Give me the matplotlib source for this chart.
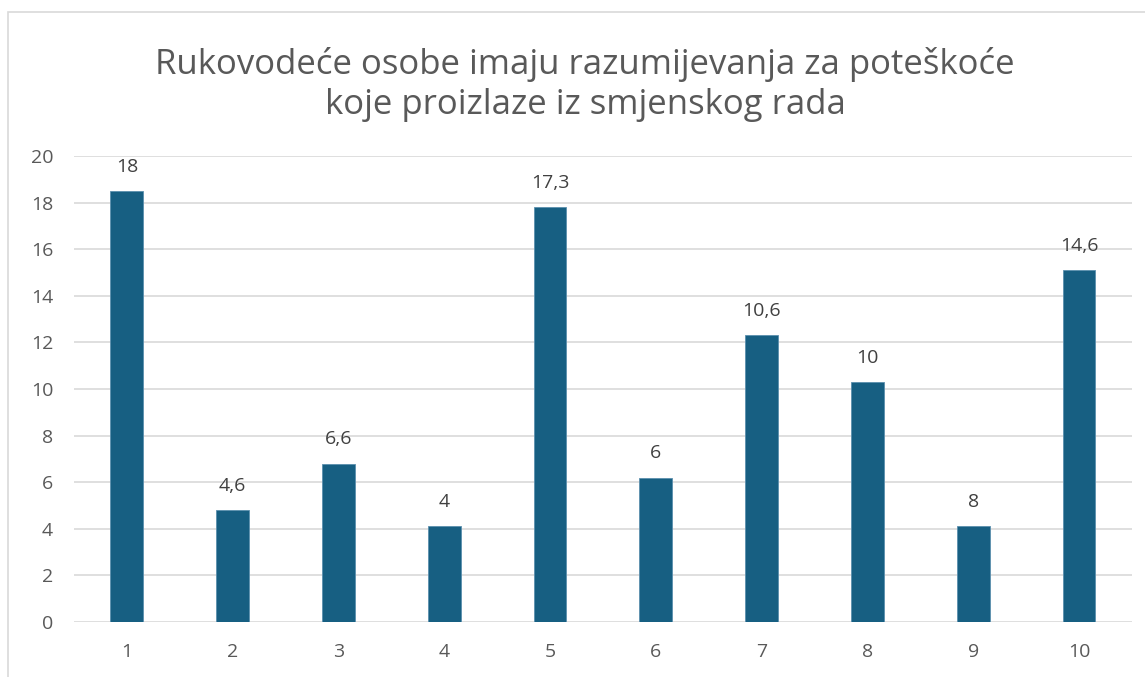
import matplotlib.pyplot as plt
from matplotlib.patches import Rectangle

plt.rcParams['font.family'] = ['Open Sans', 'DejaVu Sans']

categories = ['1', '2', '3', '4', '5', '6', '7', '8', '9', '10']
bar_heights = [18.5, 4.8, 6.8, 4.1, 17.8, 6.2, 12.3, 10.3, 4.1, 15.1]
bar_labels = ['18', '4,6', '6,6', '4', '17,3', '6', '10,6', '10', '8', '14,6']
y_ticks = [0, 2, 4, 6, 8, 10, 12, 14, 16, 18, 20]
title = 'Rukovodeće osobe imaju razumijevanja za poteškoće\nkoje proizlaze iz smjenskog rada'

fig = plt.figure(figsize=(11.45, 6.77), dpi=100)
ax = fig.add_axes([0.0646, 0.0812, 0.924, 0.6884])

# chart area border (only left and top visible)
fig.patches.append(Rectangle((8 / 1145, -0.1), 1.2, (677 - 12) / 677 + 0.1,
                             transform=fig.transFigure, fill=False,
                             edgecolor='#d9d9d9', linewidth=1.2))

x = list(range(len(categories)))
bars = ax.bar(x, bar_heights, width=0.31, color='#175f82', edgecolor='#5b8fae',
              linewidth=0.6, zorder=3)
for b, lab in zip(bars, bar_labels):
    ax.annotate(lab, (b.get_x() + b.get_width() / 2, b.get_height()),
                xytext=(0, 11), textcoords='offset points', ha='center',
                va='bottom', fontsize=14, color='#404040')

ax.set_xlim(-0.5, len(categories) - 0.5)
ax.set_ylim(0, 20)
ax.set_yticks(y_ticks)
ax.set_xticks(x)
ax.set_xticklabels(categories)
ax.grid(axis='y', color='#d9d9d9', linewidth=1.2, zorder=0)
for s in ax.spines.values():
    s.set_visible(False)
ax.tick_params(length=0, labelsize=14, labelcolor='#595959')
ax.tick_params(axis='x', pad=15)
ax.tick_params(axis='y', pad=15)

fig.text(0.511, 0.875, title, ha='center', va='center', fontsize=25,
         color='#595959', linespacing=1.25)

fig.savefig('out.png', dpi=100)
